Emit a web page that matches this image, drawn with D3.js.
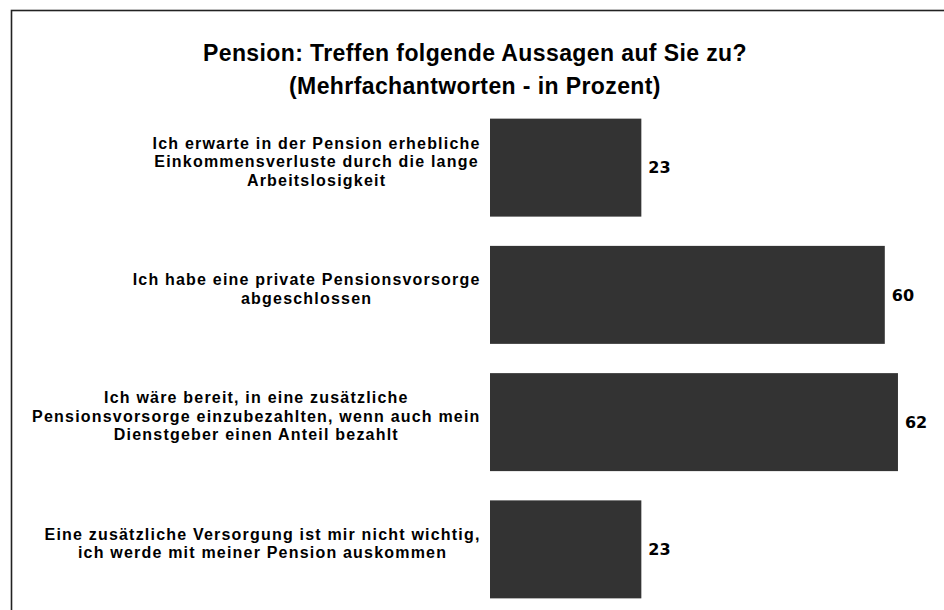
<!DOCTYPE html>
<html>
<head>
<meta charset="utf-8">
<script src="https://cdn.jsdelivr.net/npm/d3@7"></script>
<style>
    body { margin: 0; background: #fff; }
    .chart-title { font-family: "Liberation Sans", Arial, sans-serif; font-weight: bold; font-size: 23px; letter-spacing: 0.4px; fill: #000; }
    .cat-label { font-family: "Liberation Sans", Arial, sans-serif; font-weight: bold; font-size: 16px; letter-spacing: 1.2px; fill: #000; }
    .value-label { font-family: "DejaVu Sans", Verdana, sans-serif; font-weight: bold; font-size: 16px; fill: #000; }
</style>
</head>
<body>
<svg id="chart"></svg>
<script>
// Data
const titleLines = ['Pension: Treffen folgende Aussagen auf Sie zu?', '(Mehrfachantworten - in Prozent)'];
const categories = [
    ['Ich erwarte in der Pension erhebliche', 'Einkommensverluste durch die lange', 'Arbeitslosigkeit'],
    ['Ich habe eine private Pensionsvorsorge', 'abgeschlossen'],
    ['Ich wäre bereit, in eine zusätzliche', 'Pensionsvorsorge einzubezahlten, wenn auch mein', 'Dienstgeber einen Anteil bezahlt'],
    ['Eine zusätzliche Versorgung ist mir nicht wichtig,', 'ich werde mit meiner Pension auskommen']
];
const values = [23, 60, 62, 23];

class BarChart {

    constructor(_config) {
        this.config = {
            parentElement: _config.parentElement,
            containerWidth: 944,
            containerHeight: 610,
            barLeft: 490,
            labelRight: 480,
            lineHeight: 18.5
        };
        this.data = categories.map((c, i) => ({ key: i, lines: c, value: values[i] }));
        this.initVis();
    }

    initVis() {
        let vis = this;

        vis.svg = d3.select(vis.config.parentElement)
            .attr('width', vis.config.containerWidth)
            .attr('height', vis.config.containerHeight);

        // frame: only top and left edges are visible
        vis.svg.append('rect')
            .attr('x', 11.5)
            .attr('y', 10.5)
            .attr('width', 1200)
            .attr('height', 1000)
            .attr('fill', 'none')
            .attr('stroke', '#222')
            .attr('stroke-width', 1.6);

        vis.xScale = d3.scaleLinear()
            .domain([0, 70])
            .range([vis.config.barLeft, vis.config.barLeft + 460.6]);

        vis.yScale = d3.scaleBand()
            .domain(vis.data.map(d => d.key))
            .range([104, 613])
            .paddingInner(0.23)
            .paddingOuter(0.115);

        vis.svg.selectAll('.chart-title')
            .data(titleLines)
            .join('text')
            .attr('class', 'chart-title')
            .attr('x', 475)
            .attr('y', (d, i) => 61 + i * 33)
            .attr('text-anchor', 'middle')
            .text(d => d);

        vis.renderVis();
    }

    renderVis() {
        let vis = this;

        vis.svg.selectAll('.bar')
            .data(vis.data)
            .join('rect')
            .attr('class', 'bar')
            .attr('x', vis.xScale(0))
            .attr('y', d => vis.yScale(d.key))
            .attr('width', d => vis.xScale(d.value) - vis.xScale(0))
            .attr('height', vis.yScale.bandwidth())
            .attr('fill', '#333333');

        vis.svg.selectAll('.value-label')
            .data(vis.data)
            .join('text')
            .attr('class', 'value-label')
            .attr('x', d => vis.xScale(d.value) + 7)
            .attr('y', d => vis.yScale(d.key) + vis.yScale.bandwidth() / 2)
            .attr('dy', '0.36em')
            .text(d => d.value);

        // category labels: block right-aligned to the bars, lines centred inside the block
        const groups = vis.svg.selectAll('.cat-label')
            .data(vis.data)
            .join('text')
            .attr('class', 'cat-label')
            .attr('text-anchor', 'middle');

        groups.each(function(d) {
            const g = d3.select(this);
            const n = d.lines.length;
            const mid = vis.yScale(d.key) + vis.yScale.bandwidth() / 2 - 6;
            g.selectAll('tspan')
                .data(d.lines)
                .join('tspan')
                .attr('y', (l, i) => mid + (i - (n - 1) / 2) * vis.config.lineHeight)
                .attr('dy', '0.36em')
                .text(l => l);
            let maxW = 0;
            g.selectAll('tspan').each(function() {
                maxW = Math.max(maxW, this.getComputedTextLength());
            });
            g.selectAll('tspan').attr('x', vis.config.labelRight - maxW / 2 + 0.6);
        });
    }
}

new BarChart({ parentElement: '#chart' });
</script>
</body>
</html>
